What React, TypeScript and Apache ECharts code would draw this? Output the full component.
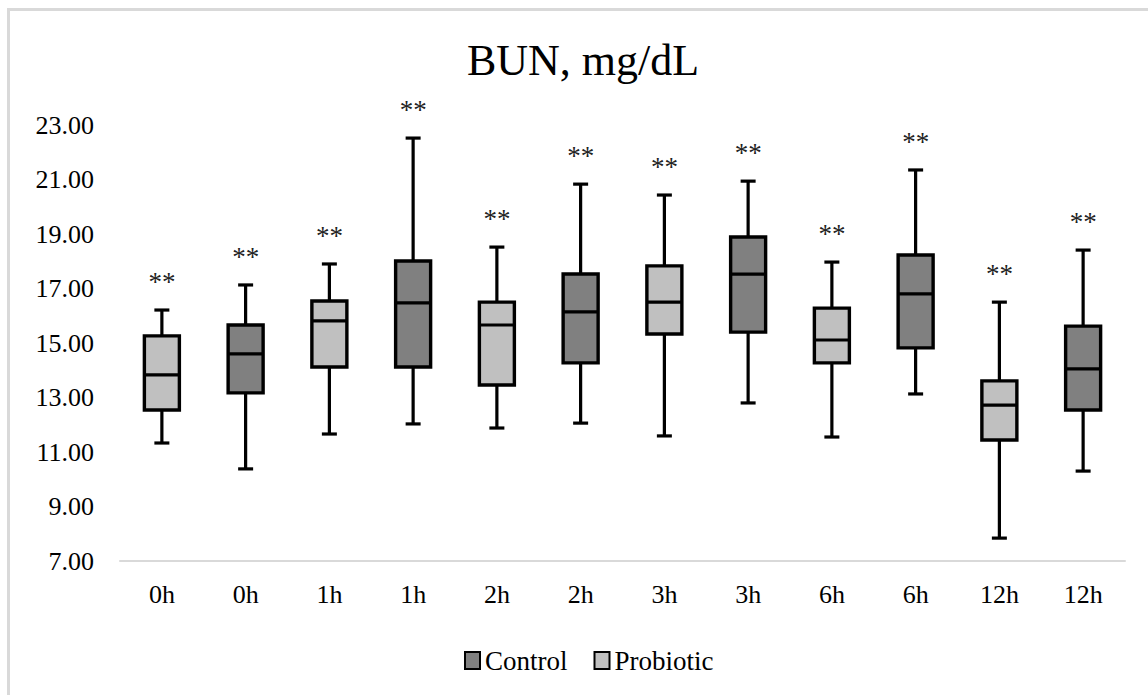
import React, { useEffect, useRef } from "react";
import * as echarts from "echarts";

const timePoints = ["0h", "1h", "2h", "3h", "6h", "12h"];
// [min, q1, median, q3, max]
const probiotic = [
  [11.33, 12.54, 13.83, 15.26, 16.21],
  [11.66, 14.12, 15.81, 16.54, 17.9],
  [11.88, 13.46, 15.66, 16.5, 18.52],
  [11.59, 15.33, 16.5, 17.83, 20.43],
  [11.55, 14.27, 15.11, 16.28, 17.97],
  [7.84, 11.44, 12.72, 13.61, 16.5],
];
const control = [
  [10.38, 13.17, 14.6, 15.66, 17.13],
  [12.03, 14.12, 16.47, 18.01, 22.52],
  [12.06, 14.27, 16.14, 17.53, 20.83],
  [12.8, 15.4, 17.53, 18.89, 20.94],
  [13.13, 14.82, 16.8, 18.23, 21.35],
  [10.3, 12.54, 14.05, 15.62, 18.41],
];
const significance = ["**", "**", "**", "**", "**", "**"];
const yTicks = { min: 7, max: 23, interval: 2 };

const FONT = "'Liberation Serif', 'Times New Roman', serif";

export default function App() {
  const ref = useRef<HTMLDivElement>(null);
  useEffect(() => {
    if (!ref.current) return;
    const chart = echarts.init(ref.current, null, { renderer: "svg" });
    const categories: string[] = [];
    timePoints.forEach((t) => {
      categories.push(t + "|P");
      categories.push(t + "|C");
    });
    const probData = probiotic.map((v, i) => [2 * i, ...v, i]);
    const ctrlData = control.map((v, i) => [2 * i + 1, ...v, i]);

    const renderItem = (fill: string) => (params: any, api: any) => {
      const idx = api.value(0);
      const vals = [1, 2, 3, 4, 5].map((k) => api.value(k));
      const pts = vals.map((v) => api.coord([idx, v]));
      const x = pts[0][0];
      const bw = 35;
      const cw = 15;
      const [pMin, pQ1, pMed, pQ3, pMax] = pts.map((p: number[]) => p[1]);
      const lineStyle = { stroke: "#000", lineWidth: 3.2 };
      const star = significance[api.value(6)];
      return {
        type: "group",
        children: [
          { type: "line", shape: { x1: x, y1: pMax, x2: x, y2: pQ3 }, style: lineStyle },
          { type: "line", shape: { x1: x, y1: pQ1, x2: x, y2: pMin }, style: lineStyle },
          { type: "line", shape: { x1: x - cw / 2, y1: pMax, x2: x + cw / 2, y2: pMax }, style: lineStyle },
          { type: "line", shape: { x1: x - cw / 2, y1: pMin, x2: x + cw / 2, y2: pMin }, style: lineStyle },
          {
            type: "rect",
            shape: { x: x - bw / 2, y: pQ3, width: bw, height: pQ1 - pQ3 },
            style: { fill, stroke: "#000", lineWidth: 3.4 },
          },
          { type: "line", shape: { x1: x - bw / 2, y1: pMed, x2: x + bw / 2, y2: pMed }, style: lineStyle },
          {
            type: "text",
            x: x,
            y: pMax - 28,
            style: {
              text: star,
              font: "27px " + FONT,
              fill: "#222",
              textAlign: "center",
              textVerticalAlign: "middle",
            },
          },
        ],
      };
    };

    chart.setOption({
      animation: false,
      backgroundColor: "#fff",
      graphic: [
        {
          type: "rect",
          shape: { x: 8.5, y: 9.5, width: 1300, height: 900 },
          style: { fill: "none", stroke: "#d9d9d9", lineWidth: 3 },
          silent: true,
        },
        {
          type: "text",
          x: 583,
          y: 60,
          style: {
            text: "BUN, mg/dL",
            font: "44px " + FONT,
            fill: "#000",
            textAlign: "center",
            textVerticalAlign: "middle",
          },
        },
      ],
      legend: {
        left: 459,
        top: 642,
        itemWidth: 15,
        itemHeight: 17,
        itemGap: 26,
        textStyle: { fontFamily: FONT, fontSize: 27, color: "#000" },
        data: [
          { name: "Control", icon: "rect", itemStyle: { color: "#808080", borderColor: "#000", borderWidth: 2 } },
          { name: "Probiotic", icon: "rect", itemStyle: { color: "#c0c0c0", borderColor: "#000", borderWidth: 2 } },
        ],
      },
      grid: { left: 120, right: 23, top: 125, bottom: 134 },
      xAxis: {
        type: "category",
        data: categories,
        axisLine: { lineStyle: { color: "#d9d9d9", width: 2 } },
        axisTick: { show: false },
        axisLabel: {
          formatter: (v: string) => v.split("|")[0],
          fontFamily: FONT,
          fontSize: 26,
          color: "#000",
          margin: 20,
        },
      },
      yAxis: {
        type: "value",
        min: yTicks.min,
        max: yTicks.max,
        interval: yTicks.interval,
        axisLine: { show: false },
        axisTick: { show: false },
        splitLine: { show: false },
        axisLabel: {
          formatter: (v: number) => v.toFixed(2),
          fontFamily: FONT,
          fontSize: 26,
          color: "#000",
          margin: 26,
        },
      },
      series: [
        {
          name: "Control",
          type: "custom",
          renderItem: renderItem("#808080"),
          itemStyle: { color: "#808080" },
          encode: { x: 0, y: [1, 2, 3, 4, 5] },
          data: ctrlData,
        },
        {
          name: "Probiotic",
          type: "custom",
          renderItem: renderItem("#c0c0c0"),
          itemStyle: { color: "#c0c0c0" },
          encode: { x: 0, y: [1, 2, 3, 4, 5] },
          data: probData,
        },
      ],
    });
    return () => chart.dispose();
  }, []);
  return (
    <div
      ref={ref}
      style={{ position: "fixed", left: 0, top: 0, width: 1148, height: 695 }}
    />
  );
}
